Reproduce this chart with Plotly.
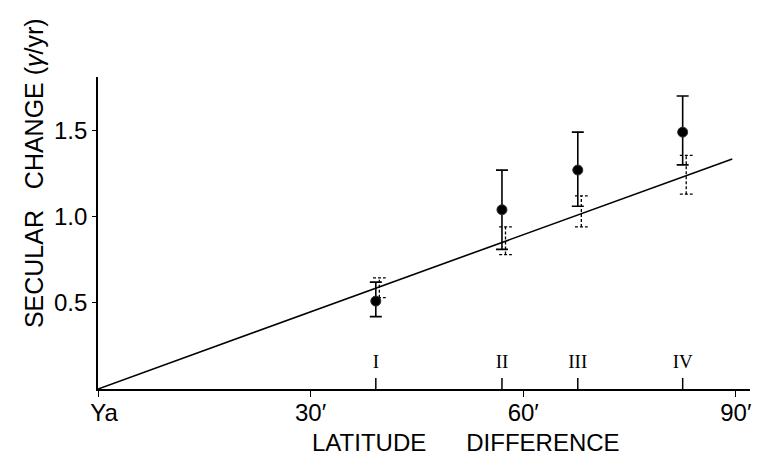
import plotly.graph_objects as go

# Stations (latitude difference in minutes)
stations = ["I", "II", "III", "IV"]
lat_diff = [39.2, 57.0, 67.7, 82.5]

# Observed secular change (solid points with error bars)
observed = [0.51, 1.04, 1.27, 1.49]
obs_upper = [0.62, 1.27, 1.49, 1.70]
obs_lower = [0.42, 0.81, 1.06, 1.30]

# Computed ranges (dashed bars)
calc_upper = [0.645, 0.94, 1.12, 1.355]
calc_lower = [0.53, 0.78, 0.94, 1.13]

# Fitted line
line_x = [0, 89.5]
line_y = [0, 1.335]

x_tickvals = [0, 30, 60, 90]
x_ticktext = ["\u2002Ya", "30′", "60′", "90′"]
y_tickvals = [0.5, 1.0, 1.5]
y_ticktext = ["0.5", "1.0", "1.5"]

FONT = "Liberation Sans"

fig = go.Figure()

# regression line
fig.add_trace(go.Scatter(x=line_x, y=line_y, mode="lines",
                         line=dict(color="black", width=1.6), hoverinfo="skip"))

# dashed computed bars
dx, cap = 0.5, 0.9
bx, by = [], []
for x, lo, hi in zip(lat_diff, calc_lower, calc_upper):
    xc = x + dx
    bx += [xc, xc, None, xc - cap, xc + cap, None, xc - cap, xc + cap, None]
    by += [lo, hi, None, hi, hi, None, lo, lo, None]
fig.add_trace(go.Scatter(x=bx, y=by, mode="lines",
                         line=dict(color="black", width=1.3, dash="3px,2px"),
                         hoverinfo="skip"))

# observed points with error bars
fig.add_trace(go.Scatter(
    x=lat_diff, y=observed, mode="markers",
    marker=dict(color="black", size=10, line=dict(color="#333", width=1)),
    error_y=dict(type="data", symmetric=False,
                 array=[u - v for u, v in zip(obs_upper, observed)],
                 arrayminus=[v - l for l, v in zip(obs_lower, observed)],
                 color="black", thickness=1.6, width=6),
))

# station markers on the x-axis
tx, ty = [], []
for x in lat_diff:
    tx += [x, x, None]
    ty += [0, 0.064, None]
fig.add_trace(go.Scatter(x=tx, y=ty, mode="lines",
                         line=dict(color="black", width=1.5), hoverinfo="skip"))
fig.add_trace(go.Scatter(x=lat_diff, y=[0.151] * len(lat_diff), mode="text",
                         text=stations,
                         textfont=dict(family="Liberation Serif", size=19, color="black"),
                         hoverinfo="skip"))

fig.update_layout(
    width=758, height=465,
    margin=dict(l=98, r=6, t=77, b=76),
    plot_bgcolor="white", paper_bgcolor="white",
    showlegend=False,
    font=dict(family=FONT, color="black", size=18),
    xaxis=dict(range=[0, 92], showgrid=False, zeroline=False,
               showline=True, linecolor="black", linewidth=1.6,
               tickvals=x_tickvals, ticktext=x_ticktext,
               ticks="outside", ticklen=6, tickwidth=1.3, tickcolor="black",
               ticklabelstandoff=-5,
               tickfont=dict(family=FONT, size=24)),
    yaxis=dict(range=[0, 1.81], showgrid=False, zeroline=False,
               showline=True, linecolor="black", linewidth=1.6,
               tickvals=y_tickvals, ticktext=y_ticktext,
               ticks="outside", ticklen=4, tickwidth=1.3, tickcolor="black",
               tickfont=dict(family=FONT, size=24)),
    annotations=[
        dict(text="LATITUDE\u00a0\u00a0\u00a0\u00a0\u00a0\u00a0DIFFERENCE", xref="paper", yref="paper",
             x=0.564, y=0, yshift=-53, xanchor="center", yanchor="middle",
             showarrow=False, font=dict(family=FONT, size=24)),
        dict(text="SECULAR\u00a0\u00a0\u00a0CHANGE\u00a0(<i>γ</i>/yr)", xref="paper", yref="paper",
             x=0, xshift=-64, y=0.692, xanchor="center", yanchor="middle",
             textangle=-90, showarrow=False, font=dict(family=FONT, size=25)),
    ],
)

fig.write_html("out.html")
